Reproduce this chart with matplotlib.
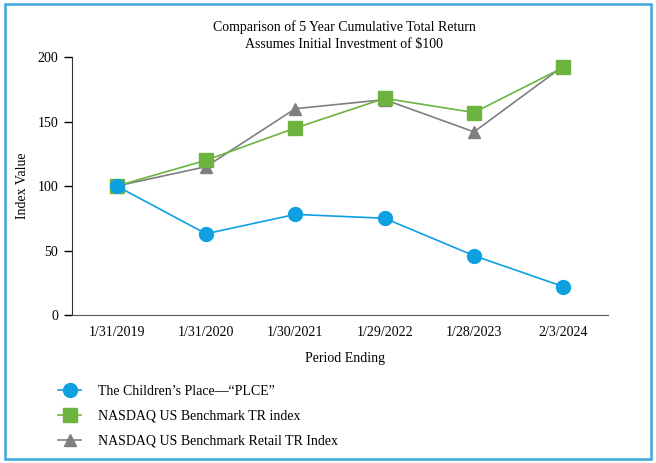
import numpy as np
import matplotlib.pyplot as plt
from matplotlib.patches import Rectangle

plt.rcParams['font.family'] = ['Liberation Serif', 'DejaVu Serif']

periods = ["1/31/2019", "1/31/2020", "1/30/2021", "1/29/2022", "1/28/2023", "2/3/2024"]
plce = [100, 63, 78, 75, 46, 22]
nasdaq = [100, 120, 145, 168, 157, 192]
retail = [100, 115, 160, 167, 142, 193]

fig = plt.figure(figsize=(6.56, 4.63), dpi=100)
ax = fig.add_axes([0.1098, 0.3197, 0.817, 0.557])

x = np.arange(len(periods))
ax.plot(x, retail, color='#7f7f7f', marker='^', markersize=9, lw=1.2,
        label="NASDAQ US Benchmark Retail TR Index")
ax.plot(x, nasdaq, color='#6db33f', marker='s', markersize=10, lw=1.2,
        label="NASDAQ US Benchmark TR index")
ax.plot(x, plce, color='#0fa0e2', marker='o', markersize=10, lw=1.2,
        label="The Children\u2019s Place\u2014\u201cPLCE\u201d")

ax.set_xlim(-0.5, 5.5)
ax.set_ylim(0, 200)
ax.set_yticks([0, 50, 100, 150, 200])
ax.set_xticks(x)
ax.set_xticklabels(periods)
ax.tick_params(axis='x', length=0, pad=8, labelsize=10)
ax.tick_params(axis='y', length=6, width=1, labelsize=10, pad=4)
ax.spines['top'].set_visible(False)
ax.spines['right'].set_visible(False)
ax.spines['left'].set_color('#333333')
ax.spines['bottom'].set_color('#555555')
ax.set_xlabel("Period Ending", fontsize=10)
ax.xaxis.set_label_coords(0.51, -0.145)
ax.set_ylabel("Index Value", fontsize=10, labelpad=6)

fig.text(0.525, 0.923, "Comparison of 5 Year Cumulative Total Return\nAssumes Initial Investment of $100",
         ha='center', va='center', fontsize=10, linespacing=1.4)

handles, labels = ax.get_legend_handles_labels()
fig.legend(handles[::-1], labels[::-1], loc='upper left', bbox_to_anchor=(0.07, 0.196),
           frameon=False, fontsize=10, handlelength=1.65, labelspacing=0.85, handletextpad=1.2)

fig.patches.append(Rectangle((0.008, 0.008), 0.984, 0.984, transform=fig.transFigure,
                             fill=False, edgecolor='#3aa8dd', lw=1.8))

fig.savefig("out.png", dpi=100)
